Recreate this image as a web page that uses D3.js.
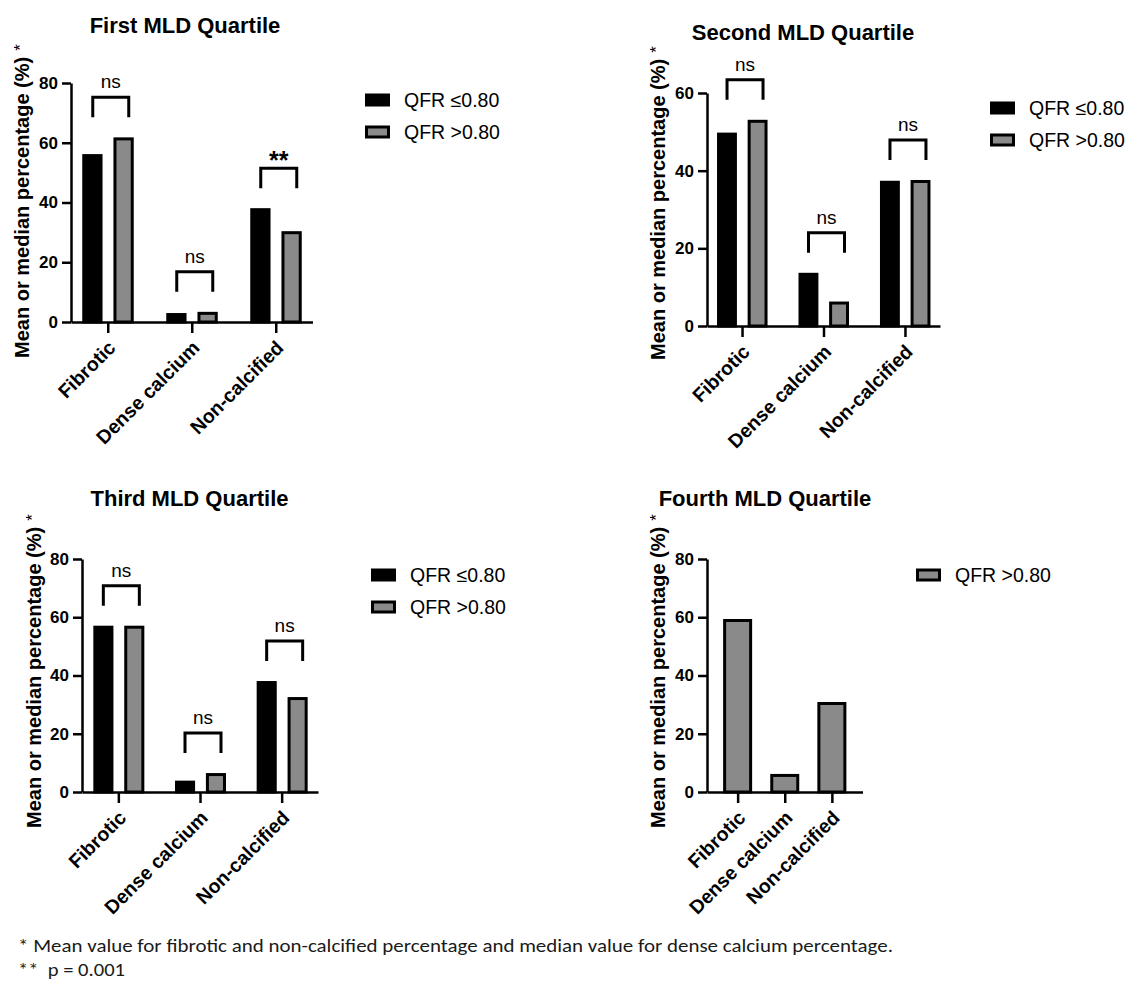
<!DOCTYPE html>
<html>
<head>
<meta charset="utf-8">
<script src="https://cdn.jsdelivr.net/npm/d3@7"></script>
<style>
  body { margin: 0; background: #fff; }
  svg { display: block; font-family: Arial, "Liberation Sans", Arimo, Helvetica, sans-serif; }
</style>
</head>
<body>
<svg id="chart" width="1127" height="981"></svg>
<script>
// data
const categories = ["Fibrotic", "Dense calcium", "Non-calcified"];
const series = ["QFR \u22640.80", "QFR >0.80"];
const titles = ["First MLD Quartile", "Second MLD Quartile", "Third MLD Quartile", "Fourth MLD Quartile"];

const q1Low = [56.2, 3.0, 38.1];
const q1High = [61.8, 3.4, 30.4];
const q2Low = [49.8, 13.7, 37.4];
const q2High = [53.1, 6.3, 37.6];
const q3Low = [57.1, 3.9, 38.1];
const q3High = [57.1, 6.5, 32.6];
const q4High = [59.4, 6.2, 30.9];

const q1Sig = ["ns", "ns", "**"];
const q2Sig = ["ns", "ns", "ns"];
const q3Sig = ["ns", "ns", "ns"];

const ticks80 = [0, 20, 40, 60, 80];
const ticks60 = [0, 20, 40, 60];

const yLabel = "Mean or median percentage (%)";
const footnote1 = "* Mean value for fibrotic and non-calcified percentage and median value for dense calcium percentage.";
const footnote2 = "**  p = 0.001";

const colors = { [series[0]]: "#000000", [series[1]]: "#8a8a8a" };
const font = "Arial, 'Liberation Sans', Arimo, Helvetica, sans-serif";

const svg = d3.select("#chart");

// layout of each panel (pixels)
const panels = [
  { title: titles[0], tx: 185, ty: 33, ax0: 71, ax1: 312.5, yTop: 83, yBot: 322, max: 80, ticks: ticks80, pad: 0.4375,
    keys: series, values: [q1Low, q1High], sig: q1Sig, labX: 28.5, labY: 358,
    legX: 365, legY: 100, inner: [-25.5, 26] },
  { title: titles[1], tx: 803, ty: 40, ax0: 707, ax1: 940, yTop: 93, yBot: 326, max: 60, ticks: ticks60, pad: 0.43,
    keys: series, values: [q2Low, q2High], sig: q2Sig, labX: 665, labY: 360,
    legX: 990, legY: 108, inner: [-25, 25.5] },
  { title: titles[2], tx: 189.5, ty: 506, ax0: 82, ax1: 318, yTop: 559, yBot: 792, max: 80, ticks: ticks80, pad: 0.445,
    keys: series, values: [q3Low, q3High], sig: q3Sig, labX: 41, labY: 828,
    legX: 371, legY: 575, inner: [-25, 26] },
  { title: titles[3], tx: 765, ty: 506, ax0: 707, ax1: 862.5, yTop: 559, yBot: 792, max: 80, ticks: ticks80, pad: 0.65,
    keys: [series[1]], values: [q4High], sig: null, labX: 665, labY: 828,
    legX: 916, legY: 575, inner: [-14.5, 14.5] }
];

panels.forEach(p => {
  const g = svg.append("g");

  const x = d3.scalePoint().domain(categories).range([p.ax0, p.ax1]).padding(p.pad);
  const xs = d3.scaleBand().domain(p.keys).range(p.inner).paddingInner(p.keys.length > 1 ? 0.35 : 0);
  const y = d3.scaleLinear().domain([0, p.max]).range([p.yBot, p.yTop]);

  // title
  g.append("text")
    .attr("x", p.tx).attr("y", p.ty)
    .attr("text-anchor", "middle")
    .style("font-size", "22px").style("font-weight", "bold")
    .text(p.title);

  // bars
  const rows = [];
  categories.forEach((c, i) => p.keys.forEach((k, j) => rows.push({ cat: c, key: k, value: p.values[j][i] })));
  g.selectAll("rect.bar").data(rows).enter()
    .append("rect")
    .attr("class", "bar")
    .attr("x", d => x(d.cat) + xs(d.key) + 1.5)
    .attr("width", xs.bandwidth() - 3)
    .attr("y", d => y(d.value) + 1.5)
    .attr("height", d => y(0) - y(d.value) - 1.5)
    .attr("fill", d => colors[d.key])
    .attr("stroke", "#000")
    .attr("stroke-width", 3);

  // axes
  const yAxis = d3.axisLeft(y).tickValues(p.ticks).tickSize(9).tickSizeOuter(0).tickPadding(4);
  const gy = g.append("g").attr("transform", `translate(${p.ax0},0)`).call(yAxis);
  gy.select(".domain").attr("stroke-width", 2.5);
  gy.selectAll(".tick line").attr("stroke-width", 2.5);
  gy.selectAll(".tick text").style("font-size", "17px").style("font-weight", "bold")
    .style("font-family", font).attr("fill", "#000");

  const xAxis = d3.axisBottom(x).tickSize(11).tickSizeOuter(0).tickFormat("");
  const gx = g.append("g").attr("transform", `translate(0,${p.yBot})`).call(xAxis);
  gx.select(".domain").attr("stroke-width", 2.5);
  gx.selectAll(".tick line").attr("stroke-width", 2.5);

  g.selectAll("text.cat").data(categories).enter()
    .append("text")
    .attr("class", "cat")
    .attr("transform", d => `translate(${x(d) + 9},${p.yBot + 27}) rotate(-45)`)
    .attr("text-anchor", "end")
    .style("font-size", "19.5px").style("font-weight", "bold")
    .text(d => d);

  // y label
  const yl = g.append("text")
    .attr("transform", `translate(${p.labX},${p.labY}) rotate(-90)`)
    .attr("text-anchor", "start")
    .style("font-size", "20px").style("font-weight", "bold")
    .text(yLabel);
  yl.append("tspan").attr("dx", 6).attr("dy", -3)
    .style("font-weight", "normal").style("font-size", "17px").text("*");

  // significance brackets
  if (p.sig) {
    categories.forEach((c, i) => {
      const top = y(d3.max(p.values, v => v[i])) - 40;
      const xl = x(c) - 15, xr = x(c) + 21;
      g.append("path")
        .attr("d", `M${xl},${top + 20}V${top}H${xr}V${top + 20}`)
        .attr("fill", "none").attr("stroke", "#000").attr("stroke-width", 3);
      const star = p.sig[i] === "**";
      g.append("text")
        .attr("x", (xl + xr) / 2).attr("y", star ? top + 1 : top - 9)
        .attr("text-anchor", "middle")
        .style("font-size", star ? "25px" : "19px")
        .style("font-weight", star ? "bold" : "normal")
        .text(p.sig[i]);
    });
  }

  // legend
  const leg = g.selectAll("g.leg").data(p.keys).enter()
    .append("g").attr("class", "leg")
    .attr("transform", (d, i) => `translate(${p.legX},${p.legY + i * 32})`);
  leg.append("rect")
    .attr("x", 1.5).attr("y", -5)
    .attr("width", 22).attr("height", 10)
    .attr("fill", d => colors[d]).attr("stroke", "#000").attr("stroke-width", 3);
  leg.append("text")
    .attr("x", 39).attr("y", 7)
    .style("font-size", "19.5px")
    .text(d => d);
});

// footnotes
svg.append("text")
  .attr("x", 18).attr("y", 952)
  .attr("textLength", 875).attr("lengthAdjust", "spacingAndGlyphs")
  .style("font-family", "Carlito, 'Open Sans', sans-serif").style("font-size", "18px").attr("fill", "#1a1a1a")
  .text(footnote1);
svg.append("text")
  .attr("x", 18).attr("y", 976)
  .attr("textLength", 107).attr("lengthAdjust", "spacingAndGlyphs")
  .style("font-family", "Carlito, 'Open Sans', sans-serif").style("font-size", "18px").attr("fill", "#1a1a1a")
  .style("white-space", "pre")
  .text(footnote2);
</script>
</body>
</html>
